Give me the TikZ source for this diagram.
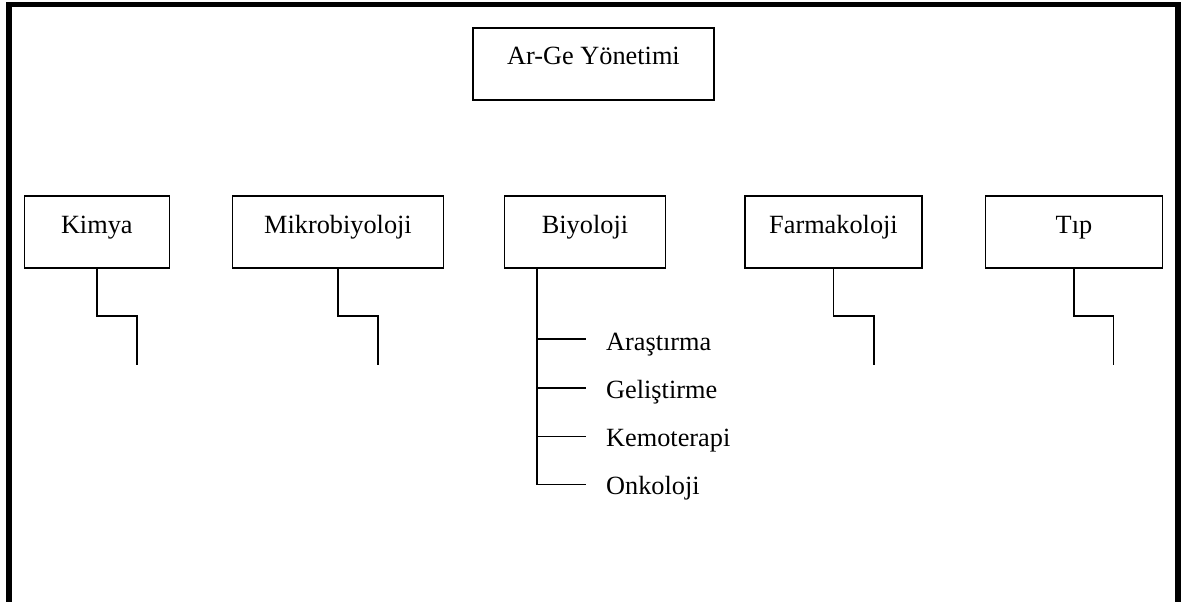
\documentclass[tikz,border=0pt]{standalone}
\usepackage{fontspec}
\setmainfont{Liberation Serif}
\begin{document}
\begin{tikzpicture}[x=1pt,y=-1pt,
  box/.style={draw=black, line width=1.5pt, inner sep=0pt, text height=18pt, text depth=16pt,
              minimum height=72pt, font=\fontsize{26.3}{30}\selectfont},
  sub/.style={anchor=base west, inner sep=0pt, font=\fontsize{26.3}{30}\selectfont},
  conn/.style={draw=black, line width=1.9pt},
  frame/.style={draw=black, line width=5.3pt, line join=miter}]
\useasboundingbox (0,0) rectangle (1187,602);
% outer frame (open at the bottom)
\draw[frame] (9,610) -- (9,4.2) -- (1178,4.2) -- (1178,610);
% top box
\node[box, minimum width=241pt] (arge) at (593.5,64) {Ar-Ge Yönetimi};
% row of boxes
\node[box, minimum width=145pt] (kimya) at (96.8,232) {Kimya};
\node[box, minimum width=210.6pt] (mikro) at (338,232) {Mikrobiyoloji};
\node[box, minimum width=161.4pt] (bio) at (585,232) {Biyoloji};
\node[box, minimum width=176.7pt] (farma) at (833.5,232) {Farmakoloji};
\node[box, minimum width=176.6pt] (tip) at (1074,232) {Tıp};
% stepped stubs
\coordinate (k1) at (137.3,365);
\coordinate (m1) at (377.7,365);
\coordinate (f1) at (874,365);
\coordinate (t1) at (1113.5,365);
\draw[conn] (kimya.south) |- (k1 |- 0,316) -- (k1);
\draw[conn] (mikro.south) |- (m1 |- 0,316) -- (m1);
\draw[conn] (farma.south) |- (f1 |- 0,316) -- (f1);
\draw[conn] (tip.south) |- (t1 |- 0,316) -- (t1);
% Biyoloji branches
\coordinate (bs) at ([xshift=-48pt]bio.south);
\coordinate (b1) at (586,339.3);
\coordinate (b2) at (586,388);
\coordinate (b3) at (586,436.5);
\coordinate (b4) at (586,484.5);
\draw[conn] (bs) -- (bs |- b4) -- (b4);
\draw[conn] (bs |- b1) -- (b1);
\draw[conn] (bs |- b2) -- (b2);
\draw[conn] (bs |- b3) -- (b3);
\node[sub] (ara) at (606,350) {Araştırma};
\node[sub] (gel) at (606,398) {Geliştirme};
\node[sub] (kem) at (606,446.5) {Kemoterapi};
\node[sub] (onk) at (606,494) {Onkoloji};
\end{tikzpicture}
\end{document}
